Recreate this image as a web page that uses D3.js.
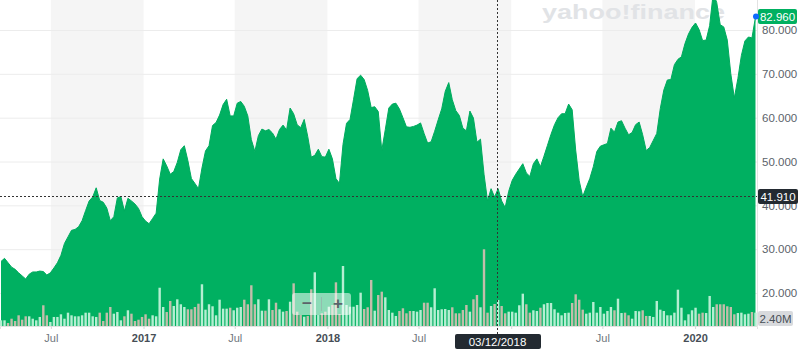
<!DOCTYPE html>
<html><head><meta charset="utf-8">
<script src="https://cdn.jsdelivr.net/npm/d3@7"></script>
<style>
html,body{margin:0;padding:0;background:#fff;}
svg{display:block;font-family:"Liberation Sans",Arial,Helvetica,sans-serif;}
</style></head>
<body><svg id="c" width="800" height="360"></svg>
<script>
// ---- data (weekly closes & volumes) ----
const firstWeek = "2016-03-24";
const prices = [
27.2,27.9,26.9,25.9,25.4,24.6,23.9,23.2,24.3,24.8,
24.8,25.0,24.9,24.1,24.6,25.7,26.9,28.6,31.3,32.8,
34.3,34.5,35.1,36.5,38.8,41.0,41.9,44.0,41.1,40.7,
39.4,36.5,37.4,41.7,42.0,38.7,41.6,41.0,40.3,39.3,
37.4,36.4,35.8,37.0,38.2,46.0,50.6,49.0,47.1,47.7,
49.8,52.7,53.6,50.2,46.1,45.0,43.8,48.5,52.4,53.6,
58.2,58.9,60.6,63.0,64.2,60.4,60.4,63.3,63.7,62.6,
60.4,55.0,52.3,55.9,57.4,57.0,57.3,56.5,55.1,57.3,
58.3,57.2,62.2,60.9,58.4,57.7,59.6,55.7,51.0,51.4,
52.8,51.1,51.0,52.8,50.6,46.1,45.0,53.9,58.7,59.6,
64.2,68.9,69.7,68.7,66.2,62.3,62.5,61.4,52.5,57.3,
62.2,63.1,63.3,62.0,60.0,57.9,57.8,58.0,58.3,58.8,
56.4,54.2,54.5,56.9,59.5,62.0,66.0,68.0,64.1,61.6,
60.5,57.6,57.0,61.5,59.9,54.4,55.1,47.1,41.0,43.8,
41.9,43.8,41.0,39.5,43.2,45.7,47.1,48.3,49.5,47.4,
46.6,49.5,50.6,48.8,51.2,53.7,56.2,58.4,60.0,60.9,
60.9,63.1,61.8,52.6,45.6,42.0,44.1,46.1,48.8,52.3,
53.5,53.8,54.1,57.6,56.7,59.0,59.3,57.6,56.1,56.6,
58.4,59.0,56.1,52.5,53.2,54.8,56.4,62.1,66.3,68.6,
68.7,72.1,73.3,73.9,76.9,79.1,80.6,81.6,80.1,77.6,
77.7,81.0,88.3,86.3,81.2,80.7,77.7,70.0,64.5,68.9,
74.2,77.5,78.4,78.2,82.96];
const volumesM = [
1.02,1.02,0.54,1.31,0.90,1.92,1.13,1.74,1.74,1.31,
1.02,1.62,3.72,1.92,0.72,1.62,1.62,2.10,1.31,2.39,
1.92,1.74,1.74,1.92,2.39,2.39,1.74,1.62,2.39,0.90,
2.39,3.41,2.21,2.51,1.02,1.74,2.82,2.21,0.90,1.13,
1.62,2.10,1.31,1.92,1.74,6.87,3.41,2.51,4.49,3.59,
4.79,3.90,3.41,3.00,3.00,3.41,4.00,7.49,2.93,3.90,
3.54,1.92,4.72,3.11,3.11,3.28,2.82,3.28,3.41,4.72,
3.90,7.31,3.90,4.79,2.75,2.75,4.79,2.87,4.18,3.00,
2.57,2.69,4.36,7.66,2.57,1.97,1.67,1.80,6.59,9.64,
1.97,2.28,2.57,3.46,3.77,7.84,2.15,10.77,3.77,3.46,
3.46,3.77,5.98,3.05,3.36,8.26,2.75,5.56,6.16,5.15,
2.87,2.39,1.80,2.69,3.18,2.28,2.69,2.69,2.57,2.87,
4.18,4.18,3.36,6.77,2.87,3.00,3.05,2.87,3.36,2.28,
2.28,2.87,3.77,2.57,4.79,5.56,3.36,13.77,2.39,3.59,
3.95,4.67,3.59,2.28,2.57,2.57,2.39,3.72,5.80,3.90,
2.39,2.82,2.69,3.28,3.90,4.13,4.13,3.00,2.39,1.92,
2.33,2.39,4.13,5.69,4.72,2.93,2.21,2.39,4.31,2.39,
3.41,2.21,2.69,3.41,2.82,4.90,2.33,2.39,1.92,1.31,
2.69,2.64,2.82,1.80,1.80,1.62,4.49,2.93,2.69,1.92,
1.92,2.39,6.52,3.28,1.02,2.10,2.82,3.28,2.21,2.39,
2.33,5.39,3.41,3.90,3.90,3.90,3.54,3.41,2.10,2.33,
2.39,2.10,2.21,2.51,2.40];
const priceTicks = [20,30,40,50,60,70,80];
const dateTicks = ["2016-07-01","2017-01-01","2017-07-01","2018-01-01","2018-07-01","2019-01-01","2019-07-01","2020-01-01"];
const hoverDate = "2018-12-03", hoverLabel = "03/12/2018", hoverPrice = 41.91;
const lastVolLabel = "2.40M";

// ---- layout ----
const W = 757, H = 326;
const svg = d3.select("#c");
const parse = d3.timeParse("%Y-%m-%d");
const start = parse(firstWeek);
const data = prices.map((p,i)=>({date:d3.timeDay.offset(start,7*i), price:p, vol:volumesM[i], up: i===0 ? true : p>=prices[i-1]}));

const x = d3.scaleTime().domain([parse("2016-03-22"), parse("2020-05-03")]).range([0, W]);
const y = d3.scaleLinear().domain([20,80]).range([293,30]);
const yv = d3.scaleLinear().domain([0,14]).range([H, 248]);

svg.append("defs").append("clipPath").attr("id","clip").append("rect").attr("x",0).attr("y",0).attr("width",W).attr("height",H);

// half-year shaded bands (Jul -> Jan)
const bandStarts = dateTicks.map(parse).filter(d=>d.getMonth()===6);
svg.append("g").selectAll("rect").data(bandStarts).join("rect")
  .attr("x", d=>x(d)).attr("y",0)
  .attr("width", d=>x(d3.timeMonth.offset(d,6))-x(d)).attr("height",H)
  .attr("fill","#f5f5f5");

// gridlines
svg.append("g").selectAll("line").data(priceTicks).join("line")
  .attr("x1",0).attr("x2",W).attr("y1",d=>y(d)+0.5).attr("y2",d=>y(d)+0.5)
  .attr("stroke","#ececec").attr("stroke-width",1);

// watermark
svg.append("text").attr("x",542).attr("y",19).text("yahoo!finance")
  .attr("font-size",21).attr("font-weight",900).attr("fill","#e1e3e6")
  .attr("textLength",183).attr("lengthAdjust","spacingAndGlyphs");

const plot = svg.append("g").attr("clip-path","url(#clip)");

// area
const area = d3.area().x(d=>x(d.date)).y0(H).y1(d=>y(d.price));
plot.append("path").datum(data).attr("d",area).attr("fill","#00b061");
plot.append("path").datum(data).attr("d",d3.line().x(d=>x(d.date)).y(d=>y(d.price)))
  .attr("fill","none").attr("stroke","#00ab5e").attr("stroke-width",1);

// volume bars
plot.append("g").selectAll("rect").data(data).join("rect")
  .attr("x", d=>x(d.date)-1.2).attr("width",2.4)
  .attr("y", d=>yv(d.vol)).attr("height", d=>H-yv(d.vol))
  .attr("fill", d=>d.up ? "#b5eed2" : "#c3bdab");

// right border line
svg.append("line").attr("x1",W+0.5).attr("x2",W+0.5).attr("y1",0).attr("y2",H)
  .attr("stroke","#e2e2e2");

// x axis
const xAxis = d3.axisBottom(x).tickValues(dateTicks.map(parse)).tickSize(3).tickPadding(5)
  .tickFormat(d=> d.getMonth()===0 ? d3.timeFormat("%Y")(d) : d3.timeFormat("%b")(d));
const gx = svg.append("g").attr("transform",`translate(0,${H})`).call(xAxis);
gx.select(".domain").attr("stroke","#e2e2e2");
gx.selectAll(".tick line").attr("stroke","#d8d8d8");
gx.selectAll(".tick text").attr("font-size",11).attr("font-family","Liberation Sans, Arial, sans-serif")
  .attr("fill", d=>d.getMonth()===0 ? "#464e56" : "#6f767d")
  .attr("font-weight", d=>d.getMonth()===0 ? "bold" : "normal");

// y axis
const yAxis = d3.axisRight(y).tickValues(priceTicks).tickSize(0).tickPadding(5).tickFormat(d3.format(".3f"));
const gy = svg.append("g").attr("transform",`translate(${W},0)`).call(yAxis);
gy.select(".domain").remove();
gy.selectAll(".tick text").attr("font-size",11.5).attr("font-family","Liberation Sans, Arial, sans-serif").attr("fill","#5b636a");

// zoom control
const zc = svg.append("g");
zc.append("rect").attr("x",292).attr("y",293).attr("width",59).attr("height",22).attr("rx",3)
  .attr("fill","#ffffff").attr("fill-opacity",0.55);
zc.append("line").attr("x1",321.5).attr("x2",321.5).attr("y1",297).attr("y2",311).attr("stroke","#9aa0a6").attr("stroke-opacity",0.5);
zc.append("text").attr("x",307).attr("y",309).attr("text-anchor","middle").attr("font-size",17).attr("font-weight","bold").attr("fill","#5b636a").text("−");
zc.append("text").attr("x",338).attr("y",309).attr("text-anchor","middle").attr("font-size",17).attr("font-weight","bold").attr("fill","#5b636a").text("+");

// crosshair
const hx = Math.round(x(parse(hoverDate)))+0.5, hy = Math.round(y(hoverPrice))-0.5;
svg.append("line").attr("x1",hx).attr("x2",hx).attr("y1",0).attr("y2",334)
  .attr("stroke","#333").attr("stroke-dasharray","2,2").attr("stroke-width",1);
svg.append("line").attr("x1",0).attr("x2",W).attr("y1",hy).attr("y2",hy)
  .attr("stroke","#333").attr("stroke-dasharray","2,2").attr("stroke-width",1);

// badges
function badge(cx, cy, w, txt, bg, fg){
  const g = svg.append("g");
  g.append("rect").attr("x",cx).attr("y",cy-7.5).attr("width",w).attr("height",15).attr("rx",2).attr("fill",bg);
  g.append("text").attr("x",cx+w/2).attr("y",cy+4).attr("text-anchor","middle")
    .attr("font-size",11.5).attr("fill",fg).text(txt);
}
const last = data[data.length-1];
badge(758, y(last.price)-0.5, 39, d3.format(".3f")(last.price), "#00b061", "#ffffff");
svg.append("circle").attr("cx",x(last.date)+0.5).attr("cy",y(last.price)-0.5).attr("r",3).attr("fill","#0f69ff");
badge(758, hy, 40, d3.format(".3f")(hoverPrice), "#232a31", "#ffffff");
badge(758, 318.5, 35, lastVolLabel, "#d8dadd", "#464e56");

// date label
const dg = svg.append("g");
dg.append("rect").attr("x",hx-42.5).attr("y",334).attr("width",86).attr("height",15).attr("rx",2).attr("fill","#232a31");
dg.append("text").attr("x",hx).attr("y",345.5).attr("text-anchor","middle").attr("font-size",11.5).attr("fill","#fff").text(hoverLabel);
</script></body></html>
